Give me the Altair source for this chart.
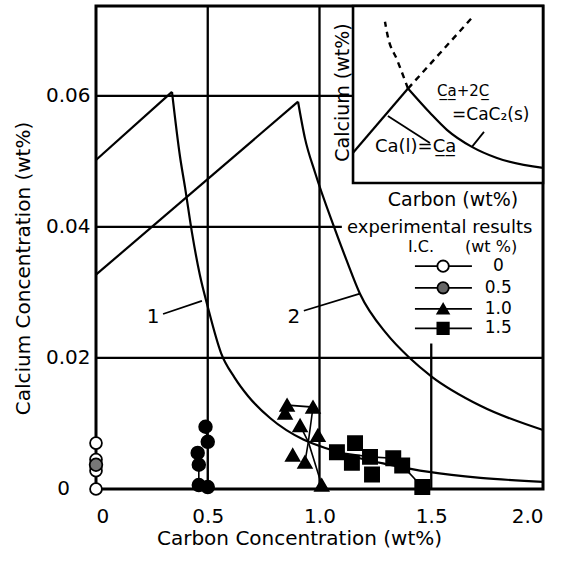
import altair as alt
import pandas as pd

# ---------------- data ----------------
# theoretical curve 1 (rising branch then CaC2 saturation branch)
curve1_c = [0.0, 0.34, 0.376, 0.398, 0.429, 0.465, 0.50, 0.56, 0.62, 0.68, 0.78,
            0.93, 1.05, 1.18, 1.3, 1.49, 1.72, 2.0]
curve1_ca = [0.0502, 0.0606, 0.0507, 0.0461, 0.0392, 0.0326, 0.0278, 0.0207, 0.0170, 0.0142,
             0.0108, 0.0075, 0.0060, 0.0047, 0.0038, 0.0026, 0.0017, 0.0011]
# theoretical curve 2
curve2_c = [0.0, 0.904, 0.935, 0.98, 1.065, 1.12, 1.181, 1.3, 1.4, 1.5, 1.72, 2.0]
curve2_ca = [0.0327, 0.0591, 0.0535, 0.0483, 0.0400, 0.0350, 0.0298, 0.0237, 0.0201, 0.0172,
             0.0127, 0.0090]

# experimental results, by initial carbon (I.C., wt%)
ic_labels = ["0", "0.5", "1.0", "1.5"]
ic0_c = [0.0, 0.0, 0.0, 0.0]
ic0_ca = [0.0, 0.0028, 0.0045, 0.0070]
ic05_c = [0.0, 0.49, 0.50, 0.455, 0.46, 0.46, 0.50]
ic05_ca = [0.0037, 0.0095, 0.0072, 0.0055, 0.0037, 0.0006, 0.0003]
ic10_c = [0.855, 0.846, 0.971, 0.913, 0.993, 0.88, 0.935, 1.01]
ic10_ca = [0.0128, 0.0116, 0.0125, 0.0097, 0.0082, 0.0052, 0.0041, 0.0006]
ic15_c = [1.078, 1.159, 1.145, 1.226, 1.235, 1.33, 1.37, 1.46]
ic15_ca = [0.0056, 0.0070, 0.0040, 0.0049, 0.0022, 0.0047, 0.0036, 0.0003]

# trajectories joining the experimental points
path_ids = ["p05a"] * 3 + ["p05b"] * 3 + ["p10a"] * 4 + ["p10b"] * 3 + ["p15a"] * 3 + ["p15b"] * 2
path_c = [0.49, 0.50, 0.50, 0.455, 0.46, 0.46,
          0.855, 0.971, 0.95, 1.01, 0.913, 0.95, 0.935,
          1.078, 1.226, 1.33, 1.37, 1.46]
path_ca = [0.0095, 0.0072, 0.0003, 0.0055, 0.0037, 0.0006,
           0.0128, 0.0125, 0.0072, 0.0006, 0.0097, 0.0072, 0.0041,
           0.0056, 0.0049, 0.0047, 0.0036, 0.0003]

# schematic inset (drawn in the main data frame)
inset_solid_c = [1.15, 1.396]
inset_solid_ca = [0.0513, 0.0611]
inset_fall_c = [1.396, 1.494, 1.570, 1.682, 1.794, 2.0]
inset_fall_ca = [0.0611, 0.0574, 0.0548, 0.0522, 0.0505, 0.0490]
inset_dash1_c = [1.396, 1.347, 1.306, 1.293]
inset_dash1_ca = [0.0611, 0.0655, 0.0690, 0.0713]
inset_dash2_c = [1.396, 1.682]
inset_dash2_ca = [0.0611, 0.0719]

x_ticks = [0, 0.5, 1.0, 1.5, 2.0]
y_ticks = [0.02, 0.04, 0.06]

# ---------------- layout constants ----------------
X_MAX = 2.0
Y_MAX = 0.0737
FONT = "DejaVu Sans"

xs = alt.Scale(domain=[0, X_MAX], nice=False, zero=False)
ys = alt.Scale(domain=[0, Y_MAX], nice=False, zero=False)

# ---------------- gridlines ----------------
grid = pd.DataFrame({
    "x": [0.5, 1.0, 1.5, 0.0, 0.0, 0.0],
    "x2": [0.5, 1.0, 1.5, X_MAX, 1.10, 1.15],
    "y": [0.0, 0.0, 0.0, 0.02, 0.04, 0.06],
    "y2": [Y_MAX, Y_MAX, 0.0222, 0.02, 0.04, 0.06],
})
grid_layer = alt.Chart(grid).mark_rule(color="black", strokeWidth=2.3).encode(
    x=alt.X("x:Q", scale=xs, axis=alt.Axis(
        values=x_ticks, title="Carbon Concentration (wt%)",
        labelExpr="datum.value == 0 ? '0' : format(datum.value, '.1f')",
        titleX=203, titleY=49, titleBaseline="middle", titleAlign="center")),
    x2="x2:Q",
    y=alt.Y("y:Q", scale=ys, axis=alt.Axis(
        values=y_ticks, title="Calcium Concentration (wt%)",
        labelExpr="format(datum.value, '.2f')",
        titleX=-73, titleY=262, titleAngle=270, titleBaseline="middle", titleAlign="center")),
    y2="y2:Q",
)

# "0" label of the y axis sits further left in the original (to clear the points at C = 0)
y0_label = pd.DataFrame({"x": [-0.145], "y": [0.0], "t": ["0"]})
y0_layer = alt.Chart(y0_label).mark_text(font=FONT, fontSize=20, color="black", align="center",
                                         baseline="middle").encode(
    x=alt.X("x:Q", scale=xs), y=alt.Y("y:Q", scale=ys), text="t:N")

# ---------------- inset box ----------------
inset_box = pd.DataFrame({"x": [1.15], "x2": [X_MAX], "y": [0.0467], "y2": [Y_MAX]})
inset_rect = alt.Chart(inset_box).mark_rect(fill="white", stroke="black", strokeWidth=2.6).encode(
    x=alt.X("x:Q", scale=xs), x2="x2:Q", y=alt.Y("y:Q", scale=ys), y2="y2:Q")

def seg_df(cs, cas, name):
    return pd.DataFrame({"c": cs, "ca": cas, "seg": name, "i": range(len(cs))})

inset_solid = pd.concat([seg_df(inset_solid_c, inset_solid_ca, "a"),
                         seg_df(inset_fall_c, inset_fall_ca, "b")])
inset_solid_layer = alt.Chart(inset_solid).mark_line(
    color="black", strokeWidth=2.2, interpolate="monotone").encode(
    x=alt.X("c:Q", scale=xs), y=alt.Y("ca:Q", scale=ys), detail="seg:N", order="i:Q")

inset_dash = pd.concat([seg_df(inset_dash1_c, inset_dash1_ca, "d1"),
                        seg_df(inset_dash2_c, inset_dash2_ca, "d2")])
inset_dash_layer = alt.Chart(inset_dash).mark_line(
    color="black", strokeWidth=2.4, strokeDash=[6, 5], interpolate="monotone").encode(
    x=alt.X("c:Q", scale=xs), y=alt.Y("ca:Q", scale=ys), detail="seg:N", order="i:Q")

# ---------------- main curves ----------------
curves = pd.concat([
    seg_df(curve1_c[:2], curve1_ca[:2], "1a"),
    seg_df(curve1_c[1:], curve1_ca[1:], "1b"),
    seg_df(curve2_c[:2], curve2_ca[:2], "2a"),
    seg_df(curve2_c[1:], curve2_ca[1:], "2b"),
])
curve_layer = alt.Chart(curves).mark_line(
    color="black", strokeWidth=2.2, interpolate="monotone").encode(
    x=alt.X("c:Q", scale=xs), y=alt.Y("ca:Q", scale=ys), detail="seg:N", order="i:Q")

# ---------------- leader lines ----------------
leaders = pd.DataFrame({
    "x": [0.30, 0.93, 1.306, 1.682],
    "x2": [0.474, 1.181, 1.494, 1.736],
    "y": [0.0267, 0.0272, 0.0569, 0.0522],
    "y2": [0.0287, 0.0298, 0.0528, 0.0545],
})
leader_layer = alt.Chart(leaders).mark_rule(color="black", strokeWidth=1.8).encode(
    x=alt.X("x:Q", scale=xs), x2="x2:Q", y=alt.Y("y:Q", scale=ys), y2="y2:Q")

# ---------------- experimental data ----------------
pts = pd.concat([
    pd.DataFrame({"c": ic0_c, "ca": ic0_ca, "ic": "0"}),
    pd.DataFrame({"c": ic05_c, "ca": ic05_ca, "ic": "0.5"}),
    pd.DataFrame({"c": ic10_c, "ca": ic10_ca, "ic": "1.0"}),
    pd.DataFrame({"c": ic15_c, "ca": ic15_ca, "ic": "1.5"}),
])
paths = pd.DataFrame({"c": path_c, "ca": path_ca, "p": path_ids, "i": range(len(path_c))})
path_layer = alt.Chart(paths).mark_line(color="black", strokeWidth=1.6).encode(
    x=alt.X("c:Q", scale=xs), y=alt.Y("ca:Q", scale=ys), detail="p:N", order="i:Q")

shape_scale = alt.Scale(domain=ic_labels, range=["circle", "circle", "triangle-up", "square"])
fill_scale = alt.Scale(domain=ic_labels, range=["white", "black", "black", "black"])
size_scale = alt.Scale(domain=ic_labels, range=[140, 200, 190, 200])

point_layer = alt.Chart(pts).mark_point(filled=True, stroke="black", strokeWidth=1.8, opacity=1).encode(
    x=alt.X("c:Q", scale=xs), y=alt.Y("ca:Q", scale=ys),
    shape=alt.Shape("ic:N", scale=shape_scale, legend=None),
    fill=alt.condition("datum.ic == '0.5' && datum.c == 0", alt.value("#777777"),
                       alt.Fill("ic:N", scale=fill_scale, legend=None)),
    size=alt.Size("ic:N", scale=size_scale, legend=None),
)

# ---------------- hand-drawn legend ----------------
leg_rows_y = [0.0340, 0.0307, 0.0275, 0.0245]
leg = pd.DataFrame({"ic": ic_labels, "y": leg_rows_y, "x1": 1.427, "x2": 1.682, "xm": 1.553, "xt": 1.80})
leg_lines = alt.Chart(leg).mark_rule(color="black", strokeWidth=1.8).encode(
    x=alt.X("x1:Q", scale=xs), x2="x2:Q", y=alt.Y("y:Q", scale=ys))
leg_marks = alt.Chart(leg).mark_point(filled=True, stroke="black", strokeWidth=1.8, opacity=1).encode(
    x=alt.X("xm:Q", scale=xs), y=alt.Y("y:Q", scale=ys),
    shape=alt.Shape("ic:N", scale=shape_scale, legend=None),
    fill=alt.condition("datum.ic == '0.5'", alt.value("#666666"),
                       alt.Fill("ic:N", scale=fill_scale, legend=None)),
    size=alt.Size("ic:N", scale=alt.Scale(domain=ic_labels, range=[130, 130, 110, 130]), legend=None),
)
leg_text = alt.Chart(leg).mark_text(font=FONT, fontSize=17, color="black", align="center",
                                    baseline="middle").encode(
    x=alt.X("xt:Q", scale=xs), y=alt.Y("y:Q", scale=ys), text="ic:N")

# ---------------- annotations ----------------
left_txt = pd.DataFrame({
    "t": ["experimental results", "I.C.", "(wt %)", "C\u0332a\u0332+2C\u0332",
          "=CaC\u2082(s)", "Ca(l)=C\u0332a\u0332"],
    "x": [1.123, 1.396, 1.651, 1.526, 1.593, 1.248],
    "y": [0.0399, 0.0370, 0.0370, 0.0608, 0.0570, 0.0522],
    "s": [18, 16, 16, 15, 17, 18],
})
left_layer = alt.Chart(left_txt).mark_text(font=FONT, color="black", align="left",
                                           baseline="middle").encode(
    x=alt.X("x:Q", scale=xs), y=alt.Y("y:Q", scale=ys), text="t:N",
    size=alt.Size("s:Q", scale=None))

center_txt = pd.DataFrame({
    "t": ["1", "2", "Carbon (wt%)", "Calcium (wt%)"],
    "x": [0.255, 0.885, 1.597, 1.105],
    "y": [0.0263, 0.0263, 0.0441, 0.0605],
    "s": [20, 20, 19, 19],
    "a": [0, 0, 0, 270],
})
center_layer = alt.Chart(center_txt).mark_text(font=FONT, color="black", align="center",
                                               baseline="middle").encode(
    x=alt.X("x:Q", scale=xs), y=alt.Y("y:Q", scale=ys), text="t:N",
    size=alt.Size("s:Q", scale=None), angle=alt.Angle("a:Q", scale=None))

chart = alt.layer(
    grid_layer, y0_layer, inset_rect, inset_solid_layer, inset_dash_layer, curve_layer,
    leader_layer, path_layer, point_layer, leg_lines, leg_marks, leg_text,
    left_layer, center_layer,
).resolve_scale(shape="shared", fill="shared", size="independent").properties(
    width=447, height=483,
    autosize=alt.AutoSizeParams(type="none"),
    padding={"left": 96, "top": 6, "right": 26, "bottom": 83},
    background="white",
).configure_view(stroke="black", strokeWidth=3).configure_axis(
    domain=False, ticks=False, grid=False,
    labelFont=FONT, labelFontSize=20, labelColor="black",
    titleFont=FONT, titleFontSize=20, titleFontWeight="normal", titleColor="black",
).configure_axisX(labelPadding=17).configure_axisY(labelPadding=6)

chart.save("out.html", embed_options={"renderer": "svg", "actions": False})
